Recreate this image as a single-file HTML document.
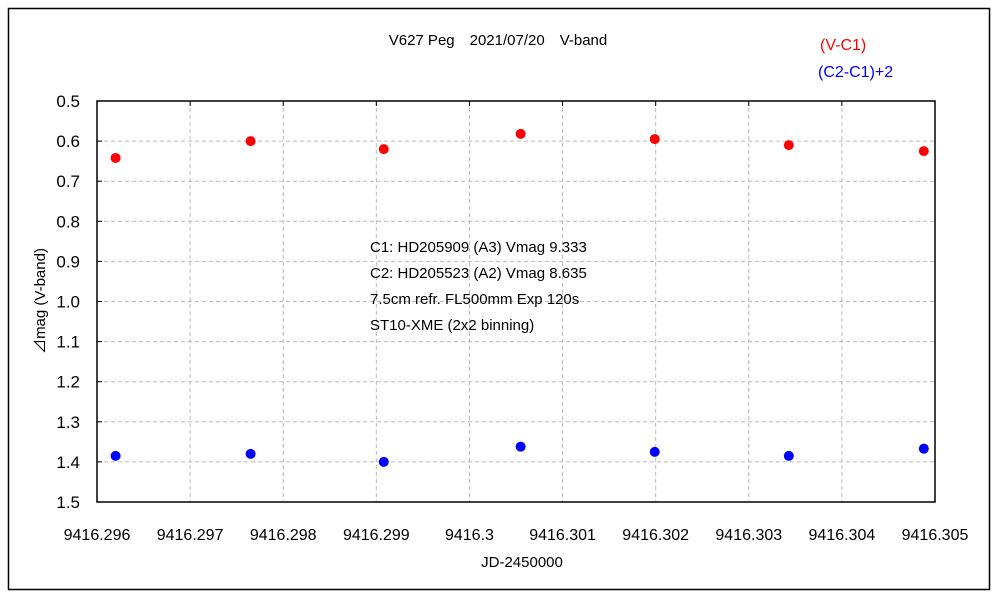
<!DOCTYPE html>
<html><head><meta charset="utf-8"><style>
body{margin:0;background:#fff;}
svg text{font-family:"Liberation Sans","Noto Sans CJK JP",sans-serif;}
</style></head><body>
<svg id="chart" width="1000" height="600" xmlns="http://www.w3.org/2000/svg">
<rect x="8.5" y="8.5" width="981" height="581" fill="#fff" stroke="#000" stroke-width="1.5"/>
<text x="498" y="45" text-anchor="middle" font-size="15" fill="#000">V627 Peg　2021/07/20　V-band</text>
<text x="820" y="50" font-size="16" fill="#ff0000">(V-C1)</text>
<text x="818" y="77" font-size="16" fill="#0000ff">(C2-C1)+2</text>
<g id="grid"></g>
<rect x="97" y="101" width="838" height="401" fill="none" stroke="#000" stroke-width="1.5"/>
<g id="ticks"></g>
<g id="marks"></g>
<g font-size="15" fill="#000">
<text x="370" y="252">C1: HD205909 (A3) Vmag 9.333</text>
<text x="370" y="278">C2: HD205523 (A2) Vmag 8.635</text>
<text x="370" y="304">7.5cm refr. FL500mm Exp 120s</text>
<text x="370" y="330">ST10-XME (2x2 binning)</text>
</g>
<text x="522" y="567" text-anchor="middle" font-size="15">JD-2450000</text>
<text transform="translate(45,301) rotate(-90)" text-anchor="middle" font-size="15">⊿mag (V-band)</text>
</svg>
<script>
const jd=[9416.2962,9416.29765,9416.29908,9416.30055,9416.30199,9416.30343,9416.30488];
const vc1=[0.642,0.600,0.620,0.582,0.595,0.610,0.625];
const c2c1=[1.385,1.380,1.400,1.362,1.375,1.385,1.367];
const xTicks=[9416.296,9416.297,9416.298,9416.299,9416.3,9416.301,9416.302,9416.303,9416.304,9416.305];
const xTickLabels=["9416.296","9416.297","9416.298","9416.299","9416.3","9416.301","9416.302","9416.303","9416.304","9416.305"];
const yTicks=[0.5,0.6,0.7,0.8,0.9,1.0,1.1,1.2,1.3,1.4,1.5];
const yTickLabels=["0.5","0.6","0.7","0.8","0.9","1.0","1.1","1.2","1.3","1.4","1.5"];
const X0=97,X1=935,Y0=101,Y1=502;
const xs=v=>X0+(v-9416.296)/(0.009)*(X1-X0);
const ys=v=>Y0+(v-0.5)/1.0*(Y1-Y0);
const NS="http://www.w3.org/2000/svg";
function mk(tag,attrs,parent,text){const e=document.createElementNS(NS,tag);for(const k in attrs)e.setAttribute(k,attrs[k]);if(text!==undefined)e.textContent=text;document.getElementById(parent).appendChild(e);return e;}
xTicks.forEach((t,i)=>{const x=xs(t);
 if(i>0&&i<xTicks.length-1){const g=mk('line',{x1:x,x2:x,y1:Y0,y2:Y1,stroke:'#bbb','stroke-dasharray':'4,3'},'grid');
 
 }
 const l=mk('line',{x1:x,x2:x,y1:Y0,y2:Y0+5,stroke:'#000'},'ticks');
 
 
 const tx=mk('text',{x:x,y:Y1+38,'text-anchor':'middle','font-size':16},'ticks',xTickLabels[i]);
 
 
});
yTicks.forEach((t,i)=>{const y=ys(t);
 if(i>0&&i<yTicks.length-1){const g=mk('line',{x1:X0,x2:X1,y1:y,y2:y,stroke:'#bbb','stroke-dasharray':'4,3'},'grid');
 
 }
 const l=mk('line',{x1:X0,x2:X0+5,y1:y,y2:y,stroke:'#000'},'ticks');
 
 
 const tx=mk('text',{x:80,y:y+6,'text-anchor':'end','font-size':17},'ticks',yTickLabels[i]);
 
 
});
jd.forEach((d,i)=>{
 const r=mk('circle',{cx:xs(d),cy:ys(vc1[i]),r:5,fill:'#ff0000'},'marks');
 
 
 const b=mk('circle',{cx:xs(d),cy:ys(c2c1[i]),r:5,fill:'#0000ff'},'marks');
 
 
});
</script>
</body></html>
